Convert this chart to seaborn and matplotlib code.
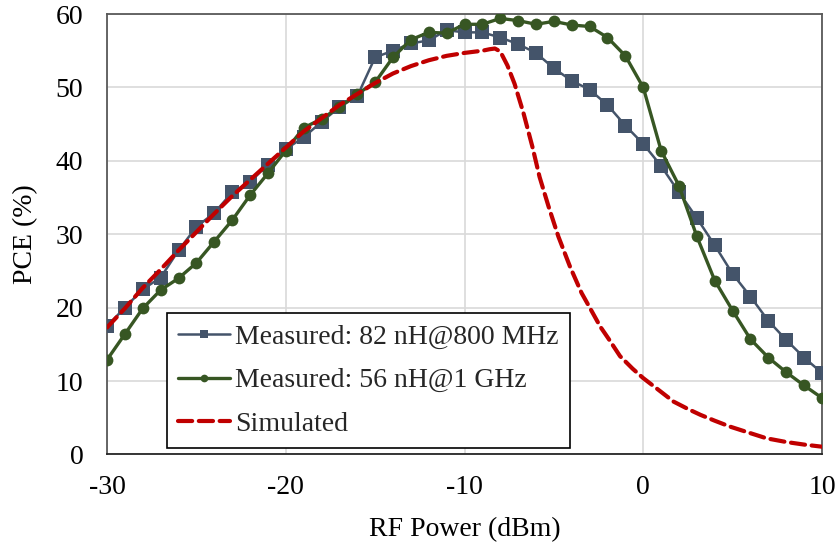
import numpy as np
import pandas as pd
import matplotlib
matplotlib.use("Agg")
import matplotlib.pyplot as plt
import seaborn as sns

# RF input power sweep (dBm) for the measured curves
power_dbm = list(range(-30, 11))

# Measured PCE (%) with 82 nH matching inductor at 800 MHz
pce_82nh = [17.5, 20.0, 22.5, 24.1, 27.8, 31.0, 32.9, 35.7, 37.1, 39.5,
            41.6, 43.2, 45.3, 47.3, 48.8, 54.1, 55.0, 56.0, 56.4, 57.8,
            57.5, 57.5, 56.8, 55.9, 54.7, 52.6, 50.9, 49.7, 47.6, 44.8,
            42.3, 39.3, 35.7, 32.2, 28.5, 24.6, 21.5, 18.2, 15.6, 13.2,
            11.1]

# Measured PCE (%) with 56 nH matching inductor at 1 GHz
pce_56nh = [12.9, 16.4, 19.9, 22.4, 24.0, 26.1, 29.0, 31.9, 35.3, 38.3,
            41.4, 44.5, 45.7, 47.3, 49.1, 50.7, 54.1, 56.5, 57.5, 57.4,
            58.6, 58.6, 59.4, 59.1, 58.6, 59.0, 58.5, 58.3, 56.8, 54.3,
            50.0, 41.4, 36.6, 29.7, 23.7, 19.6, 15.7, 13.2, 11.2, 9.4,
            7.7]

# Simulated PCE (%)
sim_power = [-30, -29, -28, -27, -26, -25, -24, -23, -22, -21, -20, -19,
             -18, -17, -16, -15, -14, -13, -12, -11, -10, -9, -8.6, -8.3,
             -8.0, -7.6, -7.2, -6.7, -6.2, -5.8, -5.3, -4.75, -4.1, -3.45,
             -2.9, -2.4, -1.95, -1.3, -0.6, 0, 0.8, 1.7, 2.5, 3.2, 4.0,
             4.85, 6.0, 6.9, 8.0, 9.0, 10]
sim_pce = [17.3, 19.9, 22.7, 25.2, 27.8, 30.3, 32.8, 35.2, 37.4, 39.6,
           41.8, 44.0, 45.8, 47.6, 49.1, 50.6, 51.9, 52.9, 53.7, 54.3,
           54.7, 55.0, 55.2, 55.3, 54.9, 53.0, 50.5, 46.5, 41.9, 37.8,
           33.8, 29.7, 25.6, 22.0, 19.6, 17.4, 15.8, 13.4, 11.7, 10.4,
           8.9, 7.2, 6.2, 5.4, 4.6, 3.8, 2.9, 2.2, 1.7, 1.35, 1.06]

labels = ["Measured: 82 nH@800 MHz", "Measured: 56 nH@1 GHz", "Simulated"]
x_ticks = [-30, -20, -10, 0, 10]
y_ticks = [0, 10, 20, 30, 40, 50, 60]

measured = pd.DataFrame({
    "power": power_dbm * 2,
    "pce": pce_82nh + pce_56nh,
    "series": [labels[0]] * len(power_dbm) + [labels[1]] * len(power_dbm),
})
simulated = pd.DataFrame({"power": sim_power, "pce": sim_pce})

sns.set_theme(style="white")
plt.rcParams["font.family"] = ["Liberation Serif", "DejaVu Serif"]

fig = plt.figure(figsize=(8.38, 5.43), dpi=100)
ax = fig.add_axes([0.1277, 0.163, 0.8532, 0.8112])

blue = "#44546A"
green = "#375623"
red = "#C00000"
fs = 20

sns.lineplot(data=measured[measured.series == labels[0]], x="power", y="pce",
             ax=ax, color=blue, lw=1.8, marker="s", markersize=9.5,
             markeredgewidth=0, label=labels[0], zorder=3)
sns.lineplot(data=measured[measured.series == labels[1]], x="power", y="pce",
             ax=ax, color=green, lw=2.4, marker="o", markersize=8.5,
             markeredgewidth=0, label=labels[1], zorder=4)
sns.lineplot(data=simulated, x="power", y="pce", ax=ax, color=red, lw=3.0,
             label=labels[2], zorder=5)
ax.lines[-1].set_dashes((3.4, 1.6))
ax.lines[-1].set_dash_capstyle("round")

ax.set_xlim(-30, 10)
ax.set_ylim(0, 60)
ax.set_xticks(x_ticks)
ax.set_yticks(y_ticks)
ax.set_xticklabels([str(t) for t in x_ticks])
ax.set_yticklabels([str(t) for t in y_ticks])
ax.tick_params(axis="both", length=0, labelsize=fs, colors="black")
ax.tick_params(axis="x", pad=15)
ax.tick_params(axis="y", pad=17)

ax.grid(True, color="#D9D9D9", lw=1.2)
ax.set_axisbelow(True)
for side, sp in ax.spines.items():
    sp.set_visible(True)
    sp.set_color("#595959")
    sp.set_linewidth(1.3)
ax.spines["bottom"].set_color("#262626")

ax.set_xlabel("RF Power (dBm)", fontsize=fs, labelpad=12, color="black")
ax.set_ylabel("PCE (%)", fontsize=fs, labelpad=13, color="black")

leg = ax.legend(loc="lower left", bbox_to_anchor=(0.084, 0.015),
                fontsize=fs, frameon=True, fancybox=False, framealpha=1,
                edgecolor="black", handlelength=1.85, handletextpad=0.2,
                borderpad=0.4, labelspacing=0.65, borderaxespad=0,
                markerscale=0.65, numpoints=1)
leg.get_frame().set_linewidth(1.2)
leg.set_zorder(10)

fig.savefig("out.png", dpi=100)
